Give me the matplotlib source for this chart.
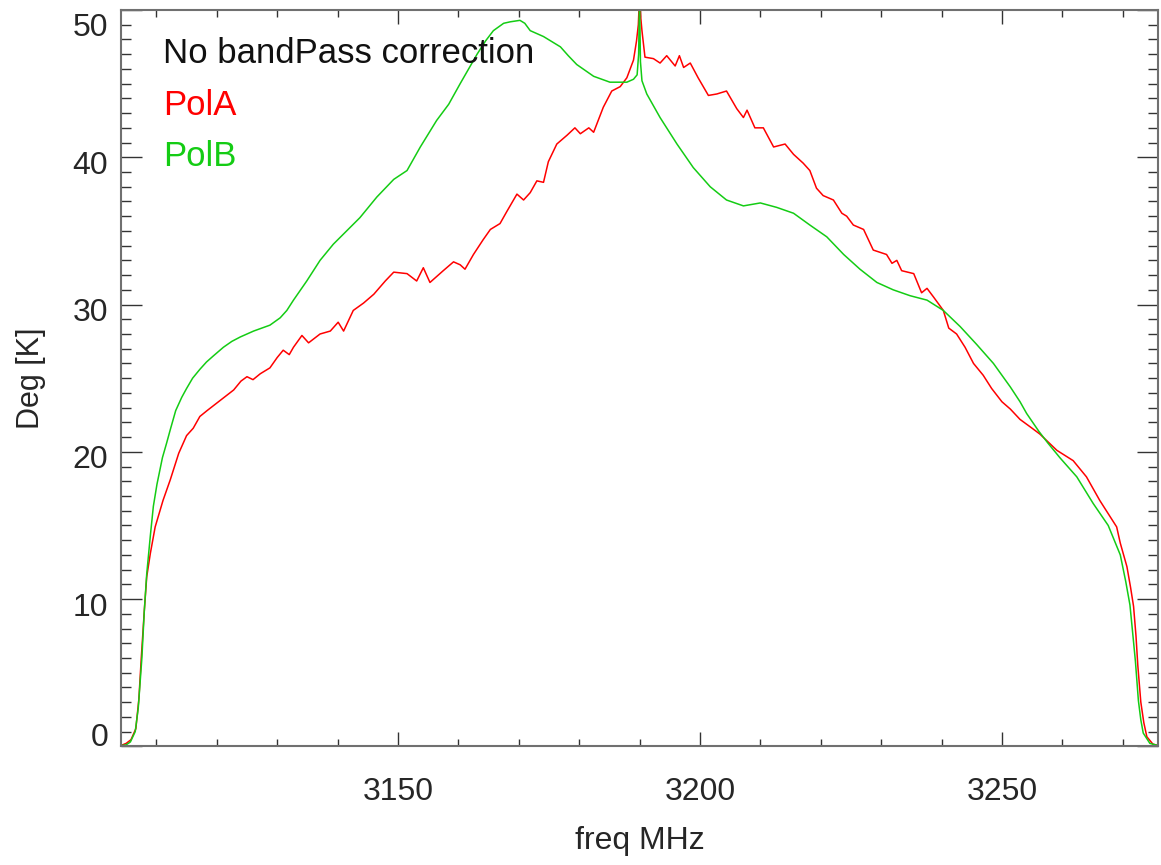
"""PolA / PolB bandpass spectra, no bandPass correction (IDL-style plot)."""

import matplotlib; matplotlib.use("Agg")
import matplotlib.pyplot as plt
from matplotlib.ticker import MultipleLocator
from matplotlib.transforms import ScaledTranslation

# PolA (red) -- freq MHz / Deg K
pola_freq = [3104.1, 3105.0, 3105.8, 3106.6, 3107.1, 3107.5, 3108.0, 3108.4, 3109.0, 3109.8,
             3110.3, 3111.1, 3112.3, 3113.7, 3115.0, 3116.1, 3117.2, 3118.4, 3120.6, 3122.8,
             3124.0, 3125.0, 3126.0, 3127.2, 3128.8, 3130.0, 3131.0, 3132.0, 3132.7, 3134.1,
             3135.2, 3137.1, 3138.8, 3140.1, 3141.0, 3142.6, 3144.3, 3146.0, 3147.9, 3149.3,
             3151.5, 3153.1, 3154.2, 3155.3, 3157.5, 3159.2, 3160.3, 3161.1, 3162.5, 3164.1,
             3165.3, 3166.9, 3168.0, 3169.7, 3170.8, 3171.9, 3173.0, 3174.1, 3174.9, 3176.3,
             3178.0, 3179.3, 3180.2, 3181.6, 3182.4, 3184.0, 3185.4, 3186.8, 3187.9, 3189.0,
             3189.5, 3189.8, 3190.0, 3190.2, 3190.4, 3190.9, 3192.3, 3193.4, 3194.5, 3195.9,
             3196.6, 3197.3, 3198.4, 3199.7, 3201.4, 3202.8, 3204.4, 3206.1, 3207.2, 3207.8,
             3209.1, 3210.5, 3212.2, 3214.1, 3215.5, 3217.1, 3218.2, 3219.3, 3220.4, 3222.1,
             3223.5, 3224.3, 3225.4, 3227.1, 3228.7, 3230.9, 3231.8, 3232.6, 3233.4, 3235.4,
             3236.7, 3237.6, 3238.7, 3240.3, 3241.2, 3242.5, 3243.9, 3245.3, 3246.9, 3248.3,
             3250.0, 3251.4, 3253.0, 3255.0, 3256.3, 3259.1, 3261.8, 3264.0, 3266.2, 3267.9,
             3269.0, 3269.6, 3270.7, 3271.3, 3271.8, 3272.2, 3272.5, 3273.0, 3273.5, 3274.0,
             3275.0, 3275.9]
pola_temp = [0.05, 0.2, 0.45, 1.2, 3.2, 6.0, 9.2, 11.5, 13.1, 14.9,
             15.6, 16.7, 18.1, 19.9, 21.1, 21.6, 22.4, 22.8, 23.5, 24.2,
             24.8, 25.1, 24.9, 25.3, 25.7, 26.4, 26.9, 26.6, 27.1, 27.9,
             27.4, 28.0, 28.2, 28.8, 28.2, 29.6, 30.1, 30.7, 31.6, 32.2,
             32.1, 31.6, 32.5, 31.5, 32.3, 32.9, 32.7, 32.4, 33.4, 34.4,
             35.1, 35.5, 36.3, 37.5, 37.1, 37.6, 38.4, 38.3, 39.7, 40.9,
             41.5, 42.0, 41.6, 42.0, 41.7, 43.4, 44.5, 44.8, 45.4, 46.6,
             47.9, 49.0, 51.0, 49.5, 48.6, 46.8, 46.7, 46.4, 46.9, 46.2,
             46.9, 46.1, 46.4, 45.4, 44.2, 44.3, 44.5, 43.3, 42.7, 43.2,
             42.0, 42.0, 40.7, 40.9, 40.2, 39.6, 39.1, 37.9, 37.4, 37.1,
             36.2, 36.0, 35.4, 35.1, 33.7, 33.4, 32.8, 33.0, 32.3, 32.1,
             30.8, 31.1, 30.5, 29.6, 28.4, 28.0, 27.1, 26.0, 25.2, 24.3,
             23.4, 22.9, 22.2, 21.6, 21.2, 20.1, 19.4, 18.3, 16.7, 15.6,
             14.9, 13.8, 12.2, 10.8, 9.5, 7.5, 5.5, 3.0, 1.6, 0.65,
             0.15, 0.05]

# PolB (green)
polb_freq = [3104.1, 3105.0, 3105.7, 3106.5, 3107.0, 3107.6, 3108.0, 3108.4, 3109.0, 3109.5,
             3110.1, 3111.0, 3111.7, 3112.3, 3113.2, 3114.2, 3115.0, 3116.0, 3117.2, 3118.3,
             3119.4, 3121.1, 3122.5, 3123.9, 3126.1, 3128.8, 3130.5, 3131.6, 3132.7, 3134.9,
             3137.1, 3139.3, 3141.5, 3143.7, 3146.5, 3149.3, 3151.5, 3153.7, 3156.4, 3158.4,
             3160.3, 3163.1, 3164.5, 3165.8, 3167.5, 3168.6, 3170.2, 3171.0, 3171.9, 3174.1,
             3176.9, 3178.2, 3179.6, 3182.4, 3185.1, 3187.9, 3189.0, 3189.6, 3189.85, 3190.0,
             3190.15, 3190.4, 3191.2, 3193.4, 3196.2, 3198.9, 3201.7, 3204.4, 3207.2, 3210.0,
             3212.7, 3215.5, 3218.2, 3221.0, 3223.8, 3226.5, 3229.3, 3232.0, 3234.8, 3237.6,
             3240.3, 3243.1, 3245.8, 3248.6, 3251.4, 3253.0, 3254.1, 3256.1, 3257.6, 3259.6,
             3262.4, 3265.1, 3267.6, 3269.6, 3270.5, 3271.2, 3271.7, 3272.1, 3272.6, 3273.0,
             3273.4, 3274.5, 3275.9]
polb_temp = [0.05, 0.1, 0.3, 1.0, 2.6, 6.0, 9.2, 11.7, 14.3, 16.3,
             17.8, 19.6, 20.6, 21.5, 22.8, 23.7, 24.3, 25.0, 25.6, 26.1,
             26.5, 27.1, 27.5, 27.8, 28.2, 28.6, 29.1, 29.6, 30.3, 31.6,
             33.0, 34.1, 35.0, 35.9, 37.3, 38.5, 39.1, 40.7, 42.5, 43.6,
             45.0, 47.0, 47.9, 48.6, 49.1, 49.2, 49.3, 49.1, 48.6, 48.2,
             47.5, 46.9, 46.3, 45.5, 45.1, 45.1, 45.3, 45.6, 47.0, 51.0,
             46.5, 45.2, 44.3, 42.7, 40.9, 39.3, 38.0, 37.1, 36.7, 36.9,
             36.6, 36.2, 35.4, 34.6, 33.4, 32.4, 31.5, 31.0, 30.6, 30.3,
             29.6, 28.5, 27.3, 26.0, 24.4, 23.4, 22.6, 21.4, 20.6, 19.6,
             18.3, 16.5, 15.0, 13.0, 11.2, 9.6, 7.5, 5.8, 3.1, 1.8,
             0.9, 0.2, 0.05]

RED = "#ff0000"
GREEN = "#14cc14"
TXT = "#262626"
FONT = "Liberation Sans"

plt.rcParams["font.family"] = [FONT, "DejaVu Sans"]

fig = plt.figure(figsize=(11.61, 8.65), dpi=100)
ax = fig.add_axes([0.1040, 0.1372, 0.8937, 0.8512])

ax.plot(pola_freq, pola_temp, color=RED, lw=1.1)
ax.plot(polb_freq, polb_temp, color=GREEN, lw=1.1)

ax.set_xlim(3104.1, 3275.9)
ax.set_ylim(0, 50)
ax.xaxis.set_major_locator(MultipleLocator(50))
ax.xaxis.set_minor_locator(MultipleLocator(10))
ax.set_yticks([0, 10, 20, 30, 40, 50])
ax.yaxis.set_minor_locator(MultipleLocator(1))

ax.tick_params(which="both", direction="in", top=True, right=True,
               colors="#333333", width=1.0, labelsize=23, labelcolor=TXT)
ax.xaxis.set_tick_params(which="major", length=10.3, pad=22)
ax.xaxis.set_tick_params(which="minor", length=5.3)
ax.yaxis.set_tick_params(which="major", length=14.9, pad=9)
ax.yaxis.set_tick_params(which="minor", length=7.2)
for s in ax.spines.values():
    s.set_color("#707070"); s.set_linewidth(1.5)

# IDL puts the end labels inside the axis range
for lab, v in zip(ax.get_yticklabels(), [0, 10, 20, 30, 40, 50]):
    if v == 0:
        lab.set_va("baseline")
    elif v == 50:
        lab.set_va("top")
        lab.set_transform(lab.get_transform() + ScaledTranslation(0, -3/100, fig.dpi_scale_trans))
    else:
        lab.set_transform(lab.get_transform() + ScaledTranslation(0, -5/100, fig.dpi_scale_trans))

ax.set_xlabel("freq MHz", fontsize=23, color=TXT, labelpad=14)
ax.set_ylabel("Deg [K]", fontsize=22, color=TXT, labelpad=19)

ax.text(0.0405, 0.928, "No bandPass correction", transform=ax.transAxes,
        fontsize=25, color="#111111", va="baseline")
ax.text(0.0405, 0.857, "PolA", transform=ax.transAxes, fontsize=25, color=RED, va="baseline")
ax.text(0.0405, 0.788, "PolB", transform=ax.transAxes, fontsize=25, color=GREEN, va="baseline")

fig.savefig("out.png", dpi=100)
plt.close(fig)
